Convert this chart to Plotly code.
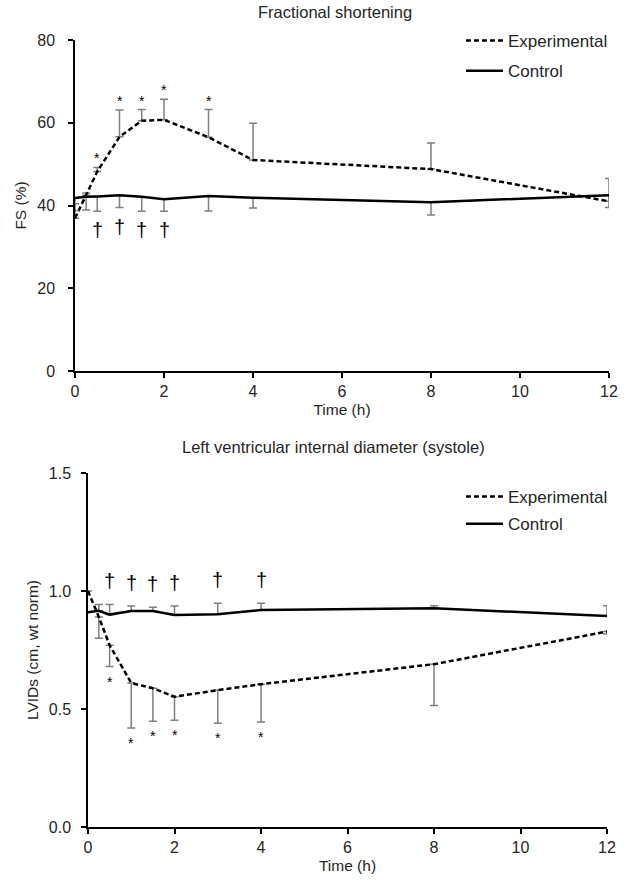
import plotly.graph_objects as go

# ---------------- data ----------------
time_h = [0, 0.25, 0.5, 1, 1.5, 2, 3, 4, 8, 12]

fs_exp = [36.9, 42.5, 48.2, 56.6, 60.5, 60.7, 56.5, 51.0, 48.8, 41.0]
fs_exp_err = [3.5, 0.5, 1.0, 6.5, 2.7, 5.0, 6.7, 8.9, 6.3, 5.5]
fs_ctrl = [41.8, 42.1, 42.2, 42.5, 42.1, 41.5, 42.3, 41.9, 40.8, 42.5]
fs_ctrl_err = [3.0, 3.2, 3.6, 3.0, 3.5, 2.9, 3.6, 2.5, 3.1, 3.0]
fs_star_idx = [2, 3, 4, 5, 6]
fs_dagger_idx = [2, 3, 4, 5]

lv_exp = [1.0, 0.89, 0.77, 0.61, 0.588, 0.552, 0.58, 0.605, 0.69, 0.828]
lv_exp_err = [0.0, 0.09, 0.09, 0.19, 0.14, 0.10, 0.14, 0.16, 0.175, 0.01]
lv_ctrl = [0.91, 0.916, 0.90, 0.915, 0.915, 0.898, 0.902, 0.919, 0.927, 0.894]
lv_ctrl_err = [0.0, 0.027, 0.043, 0.021, 0.016, 0.038, 0.046, 0.029, 0.011, 0.044]
lv_star_idx = [2, 3, 4, 5, 6, 7]
lv_dagger_idx = [2, 3, 4, 5, 6, 7]

x_ticks = [0, 2, 4, 6, 8, 10, 12]
fs_ticks = [0, 20, 40, 60, 80]
lv_ticks = [0.0, 0.5, 1.0, 1.5]

# ---------------- style ----------------
FONT = "Liberation Sans, Arial, sans-serif"
TXT = "#262626"
ERR = "#7f7f7f"
zeros = [0] * len(time_h)

fig = go.Figure()

def add_pair(xa, ya, exp, exp_err, exp_up, ctrl, ctrl_err, ctrl_up, legend):
    def eb(err, up):
        return dict(type="data", symmetric=False,
                    array=err if up else zeros,
                    arrayminus=zeros if up else err,
                    color=ERR, thickness=1.5, width=4)
    fig.add_trace(go.Scatter(
        x=time_h, y=exp, mode="lines", name="Experimental",
        line=dict(color="black", width=2.5, dash="5px,3px"),
        error_y=eb(exp_err, exp_up), xaxis=xa, yaxis=ya, legend=legend,
        legendgroup=legend + "e"))
    fig.add_trace(go.Scatter(
        x=time_h, y=ctrl, mode="lines", name="Control",
        line=dict(color="black", width=2.5),
        error_y=eb(ctrl_err, ctrl_up), xaxis=xa, yaxis=ya, legend=legend,
        legendgroup=legend + "c"))

add_pair("x", "y", fs_exp, fs_exp_err, True, fs_ctrl, fs_ctrl_err, False, "legend")
add_pair("x2", "y2", lv_exp, lv_exp_err, False, lv_ctrl, lv_ctrl_err, True, "legend2")

annotations = []

def mark(xref, yref, xs, ys, text, size, shift):
    for xv, yv in zip(xs, ys):
        annotations.append(dict(x=xv, y=yv, xref=xref, yref=yref, text=text,
                                showarrow=False, yanchor="middle", yshift=shift,
                                font=dict(family=FONT, size=size, color="black")))

# top: stars above experimental, daggers below control
mark("x", "y", [time_h[i] for i in fs_star_idx],
     [fs_exp[i] + fs_exp_err[i] for i in fs_star_idx], "*", 14, 9)
mark("x", "y", [time_h[i] for i in fs_dagger_idx],
     [fs_ctrl[i] - fs_ctrl_err[i] for i in fs_dagger_idx], "†", 20, -19)
# bottom: stars below experimental, daggers above control
mark("x2", "y2", [time_h[i] for i in lv_star_idx],
     [lv_exp[i] - lv_exp_err[i] for i in lv_star_idx], "*", 14, -15)
mark("x2", "y2", [time_h[i] for i in lv_dagger_idx],
     [lv_ctrl[i] + lv_ctrl_err[i] for i in lv_dagger_idx], "†", 20, 23)

# titles
annotations.append(dict(x=335 / 629, y=1 - 12 / 883, xref="paper", yref="paper",
                        text="Fractional shortening", showarrow=False,
                        yanchor="middle", font=dict(family=FONT, size=16.5, color=TXT)))
annotations.append(dict(x=333 / 629, y=1 - 447 / 883, xref="paper", yref="paper",
                        text="Left ventricular internal diameter (systole)", showarrow=False,
                        yanchor="middle", font=dict(family=FONT, size=16.5, color=TXT)))

W, H = 629, 883

axis_common = dict(showline=True, linecolor="black", linewidth=1.5,
                   ticks="outside", ticklen=5, tickwidth=1.5, tickcolor="black",
                   showgrid=False, zeroline=False, automargin=False,
                   tickfont=dict(family=FONT, size=16, color=TXT),
                   title_font=dict(family=FONT, size=15.5, color=TXT))

fig.update_layout(
    width=W, height=H,
    margin=dict(l=0, r=0, t=0, b=0, autoexpand=False),
    paper_bgcolor="white", plot_bgcolor="white",
    font=dict(family=FONT, color=TXT),
    xaxis=dict(domain=[75 / W, 609 / W], range=[0, 12], tickvals=x_ticks,
               title=dict(text="Time (h)", standoff=5), anchor="y", **axis_common),
    yaxis=dict(domain=[1 - 371 / H, 1 - 40 / H], range=[0, 80], tickvals=fs_ticks,
               ticklabelstandoff=10,
               title=dict(text="FS (%)", standoff=7), anchor="x", **axis_common),
    xaxis2=dict(domain=[88 / W, 607 / W], range=[0, 12], tickvals=x_ticks,
                title=dict(text="Time (h)", standoff=5), anchor="y2", **axis_common),
    yaxis2=dict(domain=[1 - 827 / H, 1 - 473 / H], range=[0, 1.5], tickvals=lv_ticks,
                tickformat=".1f", ticklabelstandoff=7,
                title=dict(text="LVIDs (cm, wt norm)", standoff=6), anchor="x2", **axis_common),
    legend=dict(x=461 / W, y=1 - 23 / H, xanchor="left", yanchor="top",
                font=dict(family=FONT, size=17, color=TXT), bgcolor="rgba(0,0,0,0)",
                tracegroupgap=5, itemwidth=37),
    legend2=dict(x=461 / W, y=1 - 479 / H, xanchor="left", yanchor="top",
                 font=dict(family=FONT, size=17, color=TXT), bgcolor="rgba(0,0,0,0)",
                 tracegroupgap=2, itemwidth=37),
    annotations=annotations,
    showlegend=True,
)

fig.write_html("out.html", config={"displayModeBar": False},
               post_script="document.body.style.margin='0';")
